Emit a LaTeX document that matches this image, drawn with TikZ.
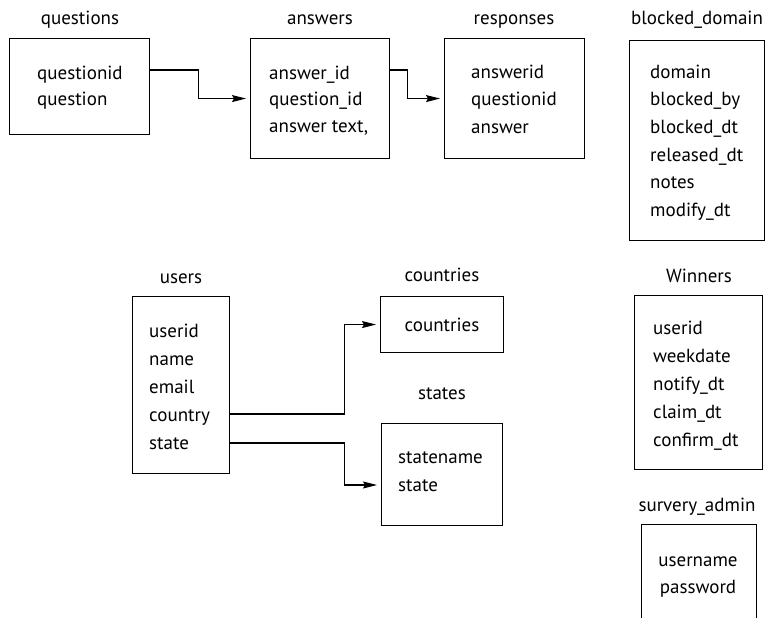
\documentclass[tikz,border=0pt]{standalone}
\usepackage{fontspec}
\setmainfont{PT Sans}
\usetikzlibrary{arrows.meta,calc}
\begin{document}
\begin{tikzpicture}[x=1pt,y=-1pt,
  tbl/.style={draw,line width=1.1pt,anchor=north west,inner sep=0pt},
  ttl/.style={anchor=base,font=\fontsize{19}{22}\selectfont,inner sep=0pt},
  fld/.style={anchor=base west,font=\fontsize{19}{22}\selectfont,inner sep=0pt},
  cfld/.style={anchor=base,font=\fontsize{19}{22}\selectfont,inner sep=0pt},
  conn/.style={line width=1.1pt,-{Stealth[length=14pt,width=7pt,inset=2pt]},shorten >=4pt}]
\useasboundingbox (0,0) rectangle (769,618);
\clip (0,0) rectangle (769,618);
% boxes
\node[tbl,minimum width=140pt,minimum height=96pt] (questions) at (9,38) {};
\node[tbl,minimum width=139pt,minimum height=120pt] (answers) at (250,38) {};
\node[tbl,minimum width=140pt,minimum height=120pt] (responses) at (444,38) {};
\node[tbl,minimum width=135pt,minimum height=200pt] (blocked) at (629,40) {};
\node[tbl,minimum width=97pt,minimum height=177pt] (users) at (132,296) {};
\node[tbl,minimum width=123pt,minimum height=56pt] (countries) at (380,296) {};
\node[tbl,minimum width=121pt,minimum height=102pt] (states) at (381,423) {};
\node[tbl,minimum width=128pt,minimum height=174pt] (winners) at (634,295) {};
\node[tbl,minimum width=115pt,minimum height=130pt] (admin) at (641,524) {};
% titles
\node[ttl] (t-questions) at (80,25) {questions};
\node[ttl] (t-answers) at (320,25) {answers};
\node[ttl] (t-responses) at (514,25) {responses};
\node[ttl] (t-blocked) at (697,25) {blocked\_domain};
\node[ttl] (t-users) at (181,283) {users};
\node[ttl] (t-countries) at (442,281) {countries};
\node[ttl] (t-states) at (442,399) {states};
\node[ttl] (t-winners) at (699,282) {Winners};
\node[ttl] (t-admin) at (697,511) {survery\_admin};
% fields
\foreach \t [count=\i] in {questionid,question}
  \node[fld] (fq-\i) at (37,{80+(\i-1)*25.5}) {\t};
\foreach \t [count=\i] in {answer\_id,question\_id,{answer text,}}
  \node[fld] (fa-\i) at (269,{80+(\i-1)*26}) {\t};
\foreach \t [count=\i] in {answerid,questionid,answer}
  \node[fld] (fr-\i) at (471,{78+(\i-1)*27.5}) {\t};
\foreach \t [count=\i] in {domain,blocked\_by,blocked\_dt,released\_dt,notes,modify\_dt}
  \node[fld] (fb-\i) at (650,{78+(\i-1)*27.7}) {\t};
\foreach \t [count=\i] in {userid,name,email,country,state}
  \node[fld] (fu-\i) at (149,{337+(\i-1)*28}) {\t};
\node[cfld] (fc-1) at (442,331) {countries};
\foreach \t [count=\i] in {statename,state}
  \node[fld] (fs-\i) at (398,{463+(\i-1)*28}) {\t};
\foreach \t [count=\i] in {userid,weekdate,notify\_dt,claim\_dt,confirm\_dt}
  \node[fld] (fw-\i) at (653,{334+(\i-1)*28}) {\t};
\foreach \t [count=\i] in {username,password}
  \node[cfld] (fad-\i) at (698,{566+(\i-1)*27}) {\t};
% connectors
\coordinate (stin) at ($(states.north west)+(0,62)$);
\draw[conn] ($(questions.north east)+(0,32)$) -- ++(48,0) |- (answers.west);
\draw[conn] ($(answers.north east)+(0,32)$) -- ++(17,0) |- (responses.west);
\draw[conn] ($(users.north east)+(0,118)$) -- ++(114,0) |- (countries.west);
\draw[conn] ($(users.north east)+(0,147)$) -- ++(114,0) |- (stin);
\end{tikzpicture}
\end{document}
